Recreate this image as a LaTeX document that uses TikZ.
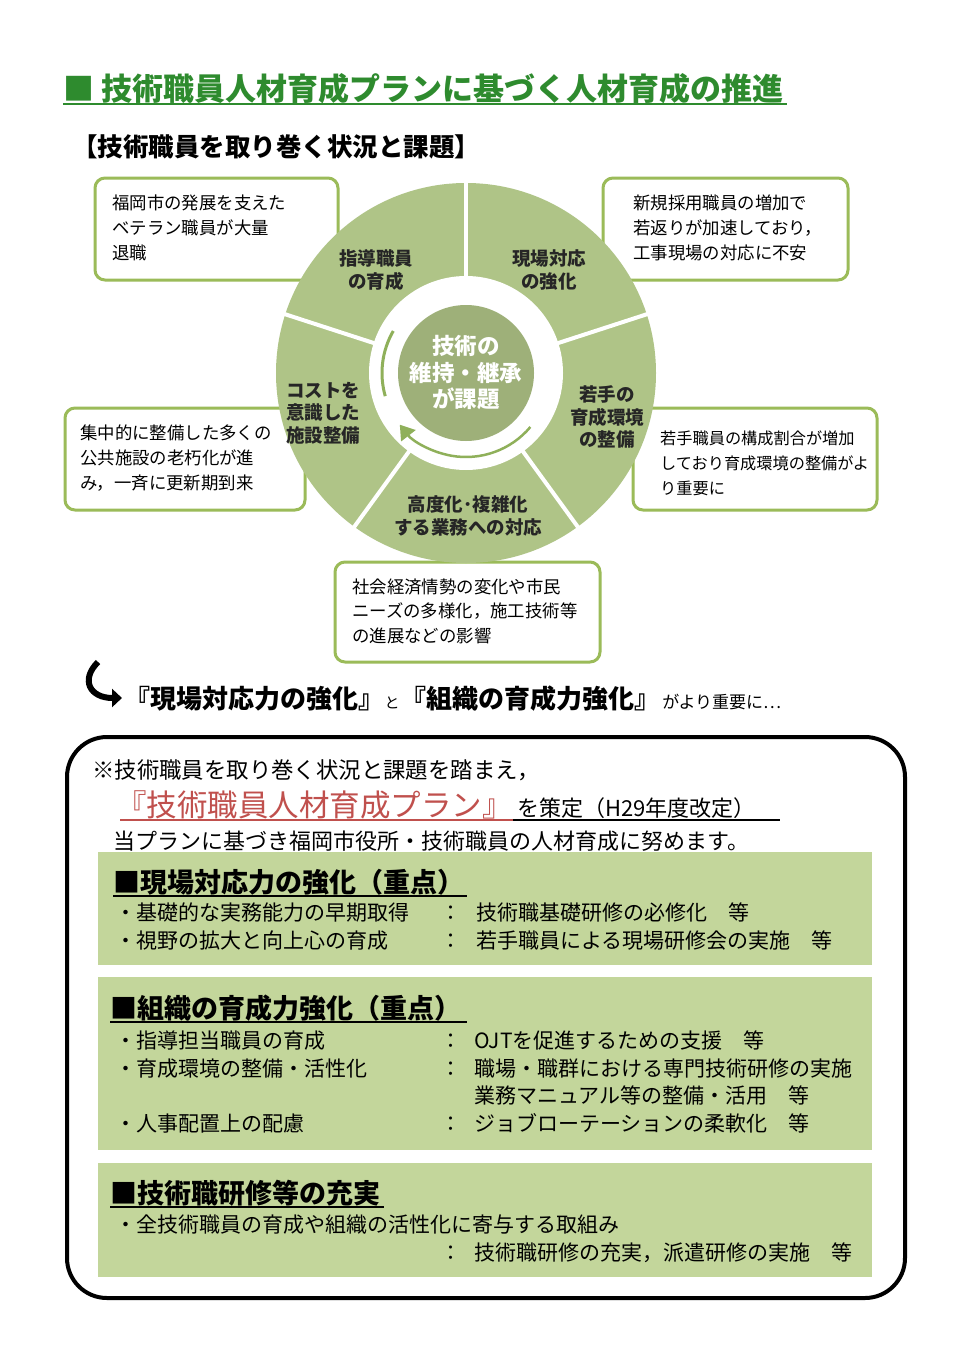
\documentclass[tikz,border=0pt]{standalone}
\usepackage{fontspec}
\setmainfont{Noto Sans CJK JP}
\usetikzlibrary{arrows.meta}
\definecolor{gbd}{HTML}{9BBB59}
\definecolor{gcir}{HTML}{AFC487}
\definecolor{gmid}{HTML}{8FB05A}
\definecolor{gpan}{HTML}{C3D69B}
\definecolor{gtit}{HTML}{2E8B2E}
\definecolor{rtit}{HTML}{C0504D}
\newcommand{\fs}[1]{\fontsize{#1}{#1}\selectfont}
\tikzset{
 infobox/.style={draw=gbd,line width=3pt,rounded corners=10pt,fill=white},
 itxt/.style={anchor=base west,inner sep=0pt,font=\fs{17.4}},
 seg/.style={align=center,font=\bfseries\fs{18.5},inner sep=0pt,text=black!85},
 ptxt/.style={anchor=base west,inner sep=0pt,font=\fs{21}},
 phead/.style={anchor=base west,inner sep=0pt,font=\bfseries\fs{27}},
 panel/.style={fill=gpan,draw=none},
}
\begin{document}
\begin{tikzpicture}[x=1pt,y=1pt]
\useasboundingbox (0,0) rectangle (960,-1357);
\fill[white] (0,0) rectangle (960,-1357);
% title
\node[anchor=base west,inner sep=0pt,text=gtit,font=\bfseries\fs{31}] (title) at (63,-100) {■ 技術職員人材育成プランに基づく人材育成の推進};
\draw[gtit,line width=1.5pt] (63,-104) -- (787,-104);
\node[anchor=base west,inner sep=0pt,font=\bfseries\fs{25.5}] (sub) at (72,-156) {【技術職員を取り巻く状況と課題】};
% info boxes
\draw[infobox] (95,-178) rectangle (338,-280);
\node[itxt] (t1) at (112,-209) {福岡市の発展を支えた};
\node[itxt] at (112,-234) {ベテラン職員が大量};
\node[itxt] at (112,-259) {退職};
\draw[infobox] (603,-178) rectangle (848,-280);
\node[itxt] (t2) at (633,-209) {新規採用職員の増加で};
\node[itxt] at (633,-234) {若返りが加速しており，};
\node[itxt] at (633,-259) {工事現場の対応に不安};
\draw[infobox] (65,-408) rectangle (305,-510);
\node[itxt] (t3) at (80,-439) {集中的に整備した多くの};
\node[itxt] at (80,-464) {公共施設の老朽化が進};
\node[itxt] at (80,-489) {み，一斉に更新期到来};
\draw[infobox] (633,-408) rectangle (877,-510);
\node[itxt,font=\fs{16.2}] (t4) at (660,-444) {若手職員の構成割合が増加};
\node[itxt,font=\fs{16.2}] at (660,-469) {しており育成環境の整備がよ};
\node[itxt,font=\fs{16.2}] at (660,-494) {り重要に};
\draw[infobox] (335,-562) rectangle (600,-662);
\node[itxt] (t5) at (352,-593) {社会経済情勢の変化や市民};
\node[itxt] at (352,-617) {ニーズの多様化，施工技術等};
\node[itxt] at (352,-642) {の進展などの影響};
% circle
\coordinate (c) at (466,-373);
\fill[gcir] (c) circle (190);
\foreach \a in {90,162,234,306,18} \draw[white,line width=4pt] (c) -- ++(\a:192);
\fill[white] (c) circle (97);
\fill[gcir!90!black] (c) circle (68);
\draw[gmid,line width=3pt] ([shift={(150:84)}]c) arc (150:196:84);
\draw[gmid,line width=2.5pt,-{Triangle[length=14pt,width=18pt]}] ([shift={(320:84)}]c) arc (320:218:84);
\node[align=center,text=white,font=\bfseries\fs{22.5},inner sep=0pt] (ctr) at (c) {技術の\\[4pt]維持・継承\\[4pt]が課題};
\node[seg] (s1) at (376,-270) {指導職員\\[4pt]の育成};
\node[seg] (s2) at (549,-270) {現場対応\\[4pt]の強化};
\node[seg] (s3) at (607,-417) {若手の\\[4pt]育成環境\\[4pt]の整備};
\node[seg] (s4) at (468,-516) {高度化･複雑化\\[4pt]する業務への対応};
\node[seg] (s5) at (323,-413) {コストを\\[4pt]意識した\\[4pt]施設整備};
% arrow line
\coordinate (a0) at (98,-662);
\coordinate (a1) at (122,-698);
\draw[line width=6pt,-{Triangle[length=10pt,width=18pt]}] (a0) .. controls (80,-680) and (90,-698) .. (a1);
\node[anchor=base west,inner sep=0pt,font=\bfseries\fs{26}] (m1) at (124,-708) {『現場対応力の強化』};
\node[anchor=base west,inner sep=0pt,font=\fs{15}] (m2) at (m1.base east) {と};
\node[anchor=base west,inner sep=0pt,font=\bfseries\fs{26}] (m3) at (m2.base east) {『組織の育成力強化』};
\node[anchor=base west,inner sep=0pt,font=\fs{17}] (m4) at ([xshift=2pt]m3.base east) {がより重要に…};
% big box
\draw[line width=4pt,rounded corners=40pt] (67,-737) rectangle (905,-1298);
\node[ptxt,font=\fs{22.4}] (b1) at (92,-778) {※技術職員を取り巻く状況と課題を踏まえ，};
\node[anchor=base west,inner sep=0pt,text=rtit,font=\fs{30.5}] (b2) at (116,-816) {『技術職員人材育成プラン』};
\node[anchor=base west,inner sep=0pt,font=\fs{22}] (b3) at ([xshift=4pt]b2.base east) {を策定（H29年度改定）};
\draw[rtit,line width=1.3pt] (120,-820) -- (b2.base east |- 0,-820);
\draw[line width=1.3pt] (b2.base east |- 0,-820) -- (780,-820);
\node[ptxt,font=\fs{22}] (b4) at (113,-849) {当プランに基づき福岡市役所・技術職員の人材育成に努めます。};
% panels
\fill[panel] (98,-852) rectangle (872,-965);
\fill[panel] (98,-977) rectangle (872,-1150);
\fill[panel] (98,-1163) rectangle (872,-1277);
\node[phead] (h1) at (113,-892) {■現場対応力の強化（重点）};
\draw[line width=1.3pt] (113,-896) -- (467,-896);
\node[ptxt] at (115,-920) {・基礎的な実務能力の早期取得};
\node[ptxt] at (440,-920) {：};
\node[ptxt] at (476,-920) {技術職基礎研修の必修化　等};
\node[ptxt] at (115,-948) {・視野の拡大と向上心の育成};
\node[ptxt] at (440,-948) {：};
\node[ptxt] at (476,-948) {若手職員による現場研修会の実施　等};
\node[phead] (h2) at (110,-1018) {■組織の育成力強化（重点）};
\draw[line width=1.3pt] (110,-1022) -- (467,-1022);
\node[ptxt] at (115,-1048) {・指導担当職員の育成};
\node[ptxt] at (440,-1048) {：};
\node[ptxt] at (474,-1048) {OJTを促進するための支援　等};
\node[ptxt] at (115,-1076) {・育成環境の整備・活性化};
\node[ptxt] at (440,-1076) {：};
\node[ptxt] at (474,-1076) {職場・職群における専門技術研修の実施};
\node[ptxt] at (474,-1103) {業務マニュアル等の整備・活用　等};
\node[ptxt] at (115,-1131) {・人事配置上の配慮};
\node[ptxt] at (440,-1131) {：};
\node[ptxt] at (474,-1131) {ジョブローテーションの柔軟化　等};
\node[phead] (h3) at (110,-1203) {■技術職研修等の充実};
\draw[line width=1.3pt] (110,-1207) -- (384,-1207);
\node[ptxt] at (115,-1232) {・全技術職員の育成や組織の活性化に寄与する取組み};
\node[ptxt] at (440,-1260) {：};
\node[ptxt] at (474,-1260) {技術職研修の充実，派遣研修の実施　等};
\end{tikzpicture}
\end{document}
